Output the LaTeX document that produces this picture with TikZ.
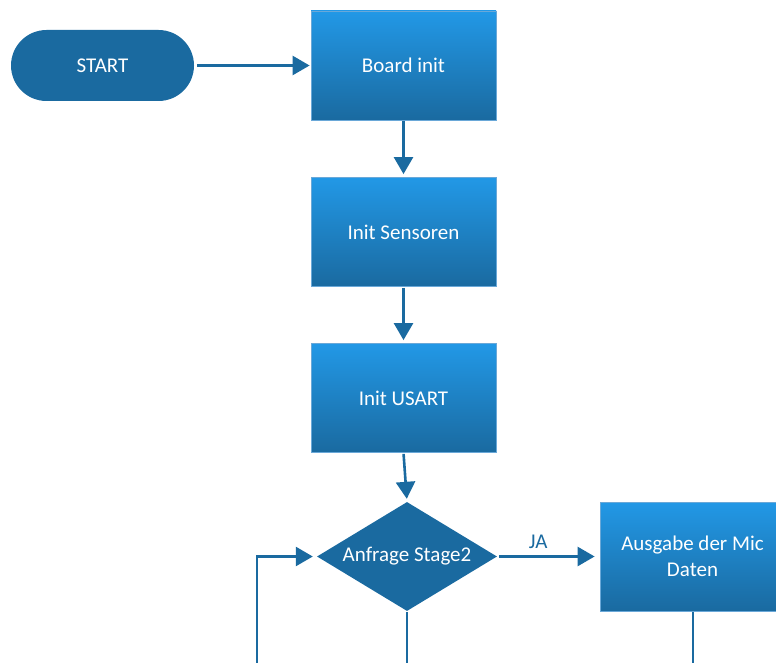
\documentclass[tikz,border=0pt]{standalone}
\usepackage{fontspec}
\setmainfont{Carlito}
\usetikzlibrary{arrows.meta,shapes.misc,shapes.geometric}
\definecolor{flowdark}{HTML}{1A6AA0}
\definecolor{flowlight}{HTML}{2298E6}
\definecolor{flowedge}{HTML}{6AA8D8}
\tikzset{
  x=1pt, y=1pt,
  terminal/.style={rounded rectangle, fill=flowdark, text=white,
    minimum width=183, minimum height=71, inner sep=0pt, font=\fontsize{21}{24}\selectfont},
  procbox/.style={rectangle, top color=flowlight, bottom color=flowdark,
    draw=flowedge, line width=0.8pt, text=white, minimum width=185, minimum height=109,
    inner sep=0pt, align=center, font=\fontsize{21}{26}\selectfont},
  decision/.style={diamond, aspect=1.65, fill=flowdark, text=white, minimum width=180,
    minimum height=109, inner sep=0pt, font=\fontsize{21}{24}\selectfont},
  flow/.style={draw=flowdark, line width=2.6pt},
  flowarrow/.style={flow, -{Triangle[length=17pt,width=19pt]}},
  edgelabel/.style={text=flowdark, font=\fontsize{21}{24}\selectfont, inner sep=2pt}
}
\begin{document}
\begin{tikzpicture}
\useasboundingbox (0,0) rectangle (776,-663);

% nodes
\node[terminal] (start) at (102.5,-65.5) {START};
\node[procbox] (board) at (403.5,-65.5) {Board init};
\node[procbox] (sens) at (403.5,-232) {Init Sensoren};
\node[procbox] (usart) at (403.5,-398) {Init USART};
\node[decision] (ask) at (407,-556.5) {Anfrage Stage2};
\node[procbox] (mic) at (692.5,-556.5) {Ausgabe der Mic\\Daten};

% off-page continuations
\coordinate (askdown) at (407,-675);
\coordinate (micdown) at (693,-675);
\coordinate (loopup) at (257,-675);

% connectors
\draw[flowarrow, shorten <=3pt, shorten >=1pt] (start) -- (board);
\draw[flowarrow, shorten <=1pt, shorten >=3pt] (board) -- (sens);
\draw[flowarrow, shorten <=1pt, shorten >=3pt] (sens) -- (usart);
\draw[flowarrow, shorten <=1pt, shorten >=3pt] (usart.south) -- (ask.north);
\draw[flowarrow, shorten <=2pt, shorten >=5pt] (ask.east) -- (mic.west)
  node[edgelabel, pos=0.4, above=5pt] (ja) {JA};
\draw[flow, shorten <=1pt] (ask.south) -- (askdown);
\draw[flow, shorten <=1pt] (mic.south -| micdown) -- (micdown);
\draw[flowarrow, shorten >=4pt] (loopup) |- (ask.west);
\end{tikzpicture}
\end{document}
